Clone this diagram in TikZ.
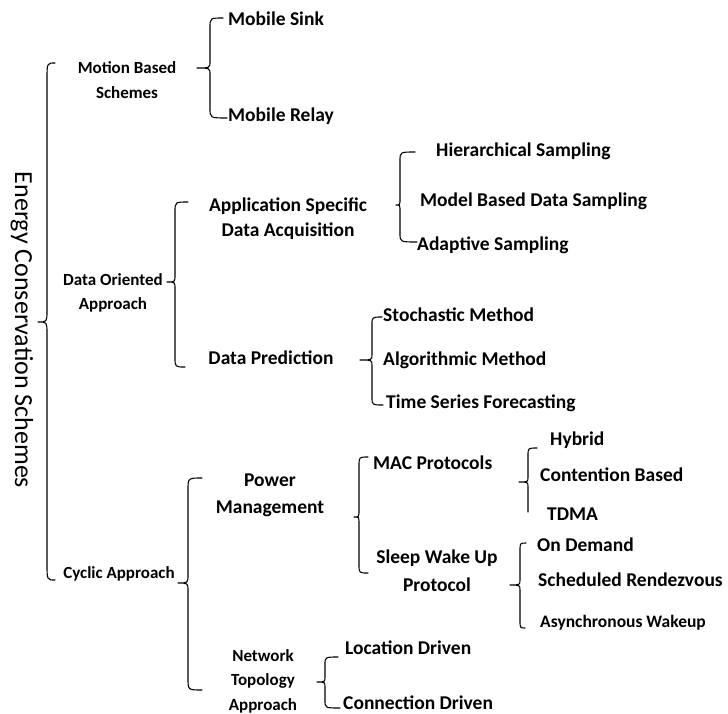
\documentclass[tikz,border=0pt]{standalone}
\usepackage{fontspec}
\setmainfont{Carlito}
\begin{document}
\begin{tikzpicture}[x=1pt,y=-1pt,
  brace/.style={line width=1.1pt,line cap=round,line join=round},
  capc/.style={inner sep=0pt,text height=0.64em,text depth=0pt},
  leaf/.style={capc,anchor=west,font=\bfseries\fontsize{19.5}{25}\selectfont},
  small/.style={capc,anchor=west,font=\bfseries\fontsize{17.5}{22}\selectfont},
  lvtwo/.style={inner sep=0pt,align=center,font=\bfseries\fontsize{19.5}{#1}\selectfont},
  lvone/.style={inner sep=0pt,align=center,font=\bfseries\fontsize{17}{#1}\selectfont},
  root/.style={inner sep=0pt,rotate=-90,font=\fontsize{26}{30}\selectfont}]
\useasboundingbox (0,0) rectangle (728,713);
\newcommand{\cbr}[8]{\draw[brace] (#1,#4) .. controls (#2,#4) .. (#2,{#4+#8}) -- (#2,{#5-0.7*#8}) .. controls (#2,#5) .. (#3,#5) .. controls (#2,#5) .. (#2,{#5+0.7*#8}) -- (#2,{#6-#8}) .. controls (#2,#6) .. (#7,#6);}
% root
\node[root] (ecs) at (22,330) {Energy Conservation Schemes};
% level one
\node[lvone=25] (mbs) at (127,80) {Motion Based\\Schemes};
\node[lvone=24] (doa) at (113,293) {Data Oriented\\Approach};
\node[lvone=25,capc] (cya) at (119,575) {Cyclic Approach};
\node[lvone=24.5] (nta) at (263,681) {Network\\Topology\\Approach};
% level two
\node[lvtwo=25] (asda) at (288,219) {Application Specific\\Data Acquisition};
\node[lvtwo=25,capc] (dp) at (271,361) {Data Prediction};
\node[lvtwo=27] (pm) at (270,495) {Power\\Management};
\node[leaf] (mac) at (373,466) {MAC Protocols};
\node[lvtwo=28] (swp) at (437,571) {Sleep Wake Up\\Protocol};
% leaves
\node[leaf] (ms) at (228,22) {Mobile Sink};
\node[leaf] (mr) at (228,118) {Mobile Relay};
\node[leaf] (hs) at (436,153) {Hierarchical Sampling};
\node[leaf] (mbds) at (420,203) {Model Based Data Sampling};
\node[leaf] (as) at (417,247) {Adaptive Sampling};
\node[leaf] (sm) at (383,318) {Stochastic Method};
\node[leaf] (am) at (383,362) {Algorithmic Method};
\node[leaf] (tsf) at (386,405) {Time Series Forecasting};
\node[leaf] (hy) at (550,442) {Hybrid};
\node[leaf] (cb) at (540,478) {Contention Based};
\node[leaf] (td) at (547,517) {TDMA};
\node[leaf] (od) at (537,548) {On Demand};
\node[leaf] (sr) at (538,583) {Scheduled Rendezvous};
\node[small] (aw) at (540,624) {Asynchronous Wakeup};
\node[leaf] (ld) at (345,651) {Location Driven};
\node[leaf] (cd) at (343,706) {Connection Driven};
% braces
\cbr{55}{47}{38}{63}{322}{580}{55}{16}
\cbr{223}{210}{197}{18}{68}{118}{227}{10}
\cbr{188}{175}{167}{202}{282}{367}{185}{10}
\cbr{415}{400}{396}{152}{205}{242}{417}{9}
\cbr{382}{372}{360}{317}{360}{405}{383}{8}
\cbr{202}{188}{178}{478}{583}{690}{202}{12}
\cbr{368}{359}{354}{457}{517}{573}{368}{9}
\cbr{526}{520}{510}{543}{585}{628}{525}{8}
\cbr{338}{325}{317}{657}{682}{708}{340}{8}
\draw[brace] (537,448) .. controls (528,448) .. (528,456) -- (528,477) .. controls (528,482) .. (519,482) .. controls (528,482) .. (528,487) -- (528,512);
\end{tikzpicture}
\end{document}
